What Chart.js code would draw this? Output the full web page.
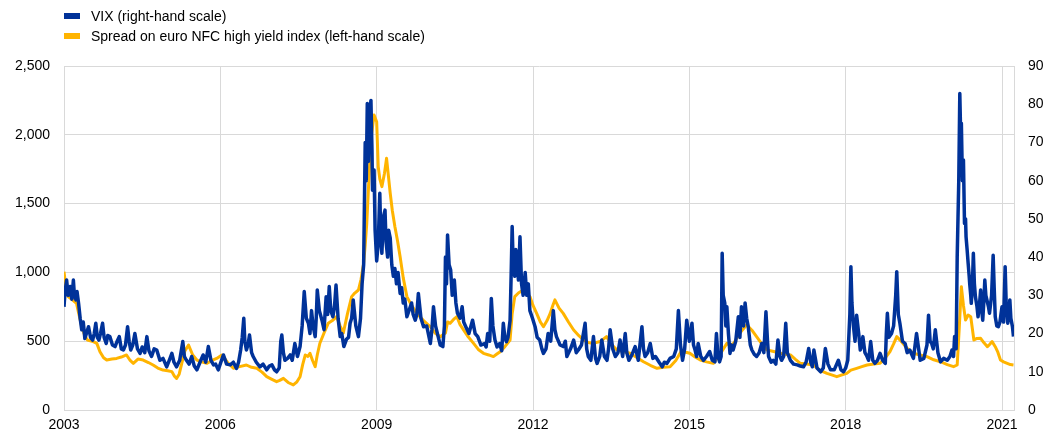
<!DOCTYPE html>
<html lang="en">
  <head>
    <meta charset="utf-8" />
    <title>VIX and euro NFC high yield spread</title>
    <style>
      * {
        margin: 0;
        padding: 0;
        font-family: "Liberation Sans", Arial, sans-serif;
      }
      body {
        width: 1057px;
        height: 441px;
        background: #fff;
        position: relative;
        overflow: hidden;
      }
      .legend {
        position: absolute;
        left: 64px;
        top: 6px;
        font-size: 14px;
        color: #000;
      }
      .legend div {
        height: 20px;
        line-height: 20px;
        display: flex;
        align-items: center;
      }
      .legend span.box {
        display: inline-block;
        width: 16px;
        height: 6px;
        margin-right: 11px;
      }
      .chartBox {
        position: absolute;
        left: 0;
        top: 0;
        width: 1057px;
        height: 441px;
      }
    </style>
  </head>
  <body>
    <div class="chartBox"><canvas id="myChart"></canvas></div>
    <div class="legend">
      <div><span class="box" style="background:#003299"></span>VIX (right-hand scale)</div>
      <div><span class="box" style="background:#ffb400"></span>Spread on euro NFC high yield index (left-hand scale)</div>
    </div>

    <script src="https://cdn.jsdelivr.net/npm/chart.js"></script>
    <script>
      // setup - values (dates as decimal years)
      const yearTicks = [2003, 2006, 2009, 2012, 2015, 2018, 2021];

      const vixDates = [
        2003.00, 2003.02, 2003.05, 2003.08, 2003.12, 2003.15, 2003.18, 2003.20, 2003.23, 2003.25,
        2003.28, 2003.31, 2003.34, 2003.37, 2003.40, 2003.43, 2003.47, 2003.51, 2003.55, 2003.58,
        2003.61, 2003.64, 2003.67, 2003.70, 2003.74, 2003.77, 2003.81, 2003.84, 2003.88, 2003.93,
        2003.98, 2004.02, 2004.06, 2004.10, 2004.14, 2004.18, 2004.22, 2004.25, 2004.28, 2004.32,
        2004.36, 2004.41, 2004.46, 2004.50, 2004.55, 2004.59, 2004.63, 2004.68, 2004.73, 2004.78,
        2004.84, 2004.90, 2004.97, 2005.02, 2005.07, 2005.11, 2005.16, 2005.22, 2005.28, 2005.31,
        2005.35, 2005.40, 2005.45, 2005.50, 2005.55, 2005.61, 2005.67, 2005.72, 2005.77, 2005.82,
        2005.87, 2005.91, 2005.96, 2006.01, 2006.06, 2006.12, 2006.19, 2006.25, 2006.31, 2006.35,
        2006.39, 2006.42, 2006.45, 2006.47, 2006.50, 2006.53, 2006.56, 2006.60, 2006.63, 2006.69,
        2006.76, 2006.82, 2006.89, 2006.94, 2006.99, 2007.04, 2007.08, 2007.13, 2007.16, 2007.18,
        2007.21, 2007.24, 2007.29, 2007.34, 2007.38, 2007.43, 2007.48, 2007.53, 2007.57, 2007.61,
        2007.65, 2007.69, 2007.72, 2007.75, 2007.78, 2007.82, 2007.84, 2007.86, 2007.90, 2007.95,
        2007.99, 2008.03, 2008.06, 2008.09, 2008.12, 2008.16, 2008.19, 2008.22, 2008.26, 2008.30,
        2008.33, 2008.37, 2008.42, 2008.46, 2008.49, 2008.52, 2008.55, 2008.60, 2008.65, 2008.69,
        2008.72, 2008.75, 2008.78, 2008.80, 2008.82, 2008.84, 2008.86, 2008.89, 2008.91, 2008.92,
        2008.95, 2008.97, 2009.00, 2009.03, 2009.06, 2009.08, 2009.10, 2009.13, 2009.16, 2009.18,
        2009.21, 2009.23, 2009.26, 2009.29, 2009.32, 2009.35, 2009.38, 2009.41, 2009.45, 2009.48,
        2009.51, 2009.54, 2009.58, 2009.62, 2009.67, 2009.70, 2009.74, 2009.77, 2009.80, 2009.85,
        2009.90, 2009.96, 2010.03, 2010.06, 2010.09, 2010.13, 2010.18, 2010.22, 2010.27, 2010.30,
        2010.32, 2010.34, 2010.36, 2010.39, 2010.42, 2010.45, 2010.49, 2010.52, 2010.55, 2010.60,
        2010.64, 2010.67, 2010.71, 2010.77, 2010.84, 2010.89, 2010.94, 2011.00, 2011.07, 2011.10,
        2011.13, 2011.17, 2011.20, 2011.23, 2011.27, 2011.31, 2011.36, 2011.40, 2011.43, 2011.46,
        2011.49, 2011.52, 2011.56, 2011.58, 2011.60, 2011.62, 2011.65, 2011.67, 2011.69, 2011.72,
        2011.75, 2011.78, 2011.81, 2011.85, 2011.88, 2011.91, 2011.94, 2011.99, 2012.04, 2012.08,
        2012.13, 2012.17, 2012.20, 2012.25, 2012.29, 2012.34, 2012.39, 2012.42, 2012.45, 2012.52,
        2012.58, 2012.62, 2012.65, 2012.72, 2012.78, 2012.83, 2012.87, 2012.93, 2013.00, 2013.03,
        2013.06, 2013.11, 2013.16, 2013.20, 2013.23, 2013.28, 2013.32, 2013.37, 2013.42, 2013.45,
        2013.48, 2013.53, 2013.58, 2013.63, 2013.67, 2013.72, 2013.77, 2013.80, 2013.84, 2013.90,
        2013.96, 2014.02, 2014.09, 2014.12, 2014.15, 2014.20, 2014.25, 2014.30, 2014.35, 2014.42,
        2014.48, 2014.52, 2014.57, 2014.63, 2014.70, 2014.75, 2014.79, 2014.83, 2014.87, 2014.91,
        2014.95, 2015.00, 2015.05, 2015.08, 2015.11, 2015.14, 2015.17, 2015.22, 2015.27, 2015.33,
        2015.39, 2015.44, 2015.49, 2015.52, 2015.55, 2015.58, 2015.61, 2015.63, 2015.65, 2015.68,
        2015.70, 2015.72, 2015.75, 2015.78, 2015.81, 2015.84, 2015.89, 2015.94, 2015.97, 2016.00,
        2016.04, 2016.07, 2016.10, 2016.13, 2016.17, 2016.20, 2016.25, 2016.29, 2016.34, 2016.39,
        2016.43, 2016.47, 2016.50, 2016.52, 2016.57, 2016.61, 2016.66, 2016.70, 2016.74, 2016.77,
        2016.81, 2016.85, 2016.88, 2016.94, 2017.00, 2017.07, 2017.13, 2017.19, 2017.24, 2017.29,
        2017.33, 2017.36, 2017.39, 2017.45, 2017.52, 2017.57, 2017.61, 2017.66, 2017.71, 2017.78,
        2017.86, 2017.91, 2017.96, 2018.00, 2018.04, 2018.08, 2018.10, 2018.12, 2018.15, 2018.18,
        2018.21, 2018.25, 2018.28, 2018.31, 2018.33, 2018.37, 2018.41, 2018.44, 2018.48, 2018.52,
        2018.56, 2018.61, 2018.66, 2018.71, 2018.76, 2018.78, 2018.80, 2018.83, 2018.88, 2018.92,
        2018.96, 2018.98, 2019.01, 2019.04, 2019.09, 2019.14, 2019.18, 2019.23, 2019.30, 2019.36,
        2019.40, 2019.43, 2019.50, 2019.56, 2019.59, 2019.62, 2019.65, 2019.68, 2019.72, 2019.77,
        2019.82, 2019.88, 2019.95, 2020.00, 2020.04, 2020.07, 2020.09, 2020.12, 2020.14, 2020.17,
        2020.19, 2020.21, 2020.22, 2020.24, 2020.26, 2020.28, 2020.30, 2020.31, 2020.33, 2020.35,
        2020.37, 2020.38, 2020.40, 2020.41, 2020.43, 2020.45, 2020.47, 2020.49, 2020.52, 2020.54,
        2020.57, 2020.59, 2020.61, 2020.63, 2020.65, 2020.67, 2020.69, 2020.71, 2020.74, 2020.76,
        2020.80, 2020.83, 2020.85, 2020.87, 2020.90, 2020.93, 2020.96, 2021.00, 2021.03, 2021.06,
        2021.08, 2021.11, 2021.13, 2021.15, 2021.17, 2021.20, 2021.22
      ];
      const vixValues = [
        27, 31, 34, 30, 32.3, 29, 34, 30, 28.8, 31,
        27.9, 24, 21, 23, 18.7, 20, 21.8, 19, 18.3, 20,
        22.7, 19, 18.3, 20, 22.7, 19, 17.4, 19.5, 19.2, 17,
        16.6, 18, 19.2, 16, 15.7, 17, 21.8, 18, 15.7, 17,
        20, 16, 14.8, 16.5, 15, 19.2, 15.5, 14, 16, 15.7,
        13, 13.5, 11.3, 13, 14.8, 12.5, 11.3, 13, 17.9, 14,
        13, 12, 14, 11.5, 10.5, 12.5, 14.4, 12.5, 16.6, 13,
        11.8, 12, 10.5, 12.5, 14.4, 12, 11.8, 12.5, 10.9, 12.5,
        15.7, 19, 24, 18, 15.7, 17, 19.6, 15, 14, 12.5,
        11.3, 12, 10.5, 11.5, 11.8, 10.5, 10, 11, 18, 19.6,
        15, 13, 13.5, 14.4, 13, 17.4, 14, 16.6, 22, 31,
        24, 22.7, 20, 26, 22, 19.2, 24, 31.4, 26, 23.5,
        21, 29.6, 25, 32.3, 26, 24.4, 27, 32.7, 24, 19.2,
        20, 16.6, 18.5, 19, 22.7, 24, 28.8, 22, 19.2, 24,
        33, 38, 70, 60, 80.2, 65, 76.7, 81, 68, 57.5,
        62.8, 47, 39, 43.6, 56.7, 45, 41, 50.6, 52.3, 44,
        40, 47, 45, 38, 35, 37, 33, 36, 30.5, 32,
        28, 29, 24.4, 26, 28, 25, 23.5, 25, 30.5, 24,
        21.8, 22, 17.4, 21, 27, 22, 19.2, 17, 16.6, 22,
        40, 33, 45.8, 38, 36.6, 30, 34, 28, 25.3, 24,
        27, 23, 21.8, 20, 23.5, 20, 19.2, 17, 17.4, 16.5,
        20, 18, 29.2, 22, 18.3, 16.5, 17.4, 15.5, 22.7, 19,
        17.9, 19, 23.5, 35, 48, 38, 35, 42, 40, 34,
        45.3, 33, 30, 36, 30, 33, 26, 24, 21.8, 19,
        18.3, 16, 14.8, 16, 20, 18, 26, 21, 19.2, 17,
        16.6, 18, 14, 16, 18.3, 15, 15.7, 17, 22.7, 16,
        14, 13, 19.2, 13.5, 12.2, 14, 18.3, 14, 13, 16,
        21, 16, 14, 15, 18.3, 14, 20, 15, 13, 14.5,
        16.6, 13, 21.8, 16, 14, 15, 17.4, 13.5, 14, 12.5,
        11.3, 12.5, 12.2, 13.5, 14, 16, 26, 17, 13, 16,
        23.5, 18, 22.7, 17, 15.7, 14, 17.4, 14, 13, 14,
        15.3, 13, 12.6, 20, 14, 12.6, 14, 41, 30, 28,
        22, 27, 20, 14.8, 17, 15.7, 18, 24.4, 19, 27,
        22, 28, 24, 21.8, 17, 15.7, 14.5, 14, 15, 17.4,
        15, 25.7, 18, 14, 12.5, 13, 12, 18.3, 14, 13,
        14, 22.7, 15, 13, 12, 11.8, 11.5, 11.3, 12.5, 16.1,
        12.5, 11.3, 15.7, 11, 10, 11, 16.1, 12, 10.5, 10.5,
        13, 10.5, 10, 11, 13, 25, 37.5, 28, 21.8, 18,
        24.8, 20, 15.7, 17, 19.2, 15, 14, 13, 17.9, 13,
        12.2, 13, 14.8, 13, 12.2, 20, 25.3, 19, 20, 22,
        30, 36.2, 25, 22.7, 18, 17.4, 15, 15.7, 13.5, 20,
        16, 13, 13.5, 17, 24.8, 18, 17.4, 16, 21, 15,
        12.6, 13.5, 13, 14, 15.7, 14, 19.2, 16, 40, 60,
        82.8, 70, 75, 60, 65.4, 48.8, 50, 45.3, 42, 38.4,
        35, 33, 30, 27.9, 32, 41, 33, 29.6, 27, 24.4,
        28, 31.4, 26, 23.5, 28, 34, 30, 28.8, 27, 25.3,
        30, 40.5, 32, 24.4, 22, 21.8, 23, 27, 23, 37.5,
        28, 22.7, 25, 28.8, 24, 21.8, 19.2
      ];

      const spreadDates = [
        2003.00, 2003.04, 2003.08, 2003.16, 2003.24, 2003.29, 2003.34, 2003.40, 2003.45, 2003.54,
        2003.63, 2003.69, 2003.76, 2003.82, 2003.92, 2004.01, 2004.10, 2004.20, 2004.27, 2004.33,
        2004.42, 2004.52, 2004.62, 2004.71, 2004.80, 2004.90, 2004.99, 2005.07, 2005.12, 2005.16,
        2005.21, 2005.26, 2005.32, 2005.39, 2005.47, 2005.55, 2005.64, 2005.74, 2005.84, 2005.93,
        2006.03, 2006.14, 2006.25, 2006.37, 2006.50, 2006.60, 2006.70, 2006.80, 2006.89, 2006.98,
        2007.08, 2007.14, 2007.21, 2007.30, 2007.40, 2007.47, 2007.53, 2007.58, 2007.63, 2007.68,
        2007.72, 2007.77, 2007.82, 2007.86, 2007.91, 2007.99, 2008.07, 2008.15, 2008.23, 2008.30,
        2008.36, 2008.44, 2008.52, 2008.58, 2008.65, 2008.70, 2008.75, 2008.78, 2008.81, 2008.86,
        2008.90, 2008.95, 2009.00, 2009.03, 2009.06, 2009.10, 2009.15, 2009.19, 2009.22, 2009.26,
        2009.30, 2009.35, 2009.40, 2009.45, 2009.51, 2009.58, 2009.67, 2009.77, 2009.90, 2010.03,
        2010.12, 2010.22, 2010.32, 2010.36, 2010.41, 2010.48, 2010.54, 2010.60, 2010.67, 2010.76,
        2010.86, 2010.95, 2011.05, 2011.15, 2011.24, 2011.30, 2011.37, 2011.46, 2011.56, 2011.60,
        2011.65, 2011.72, 2011.81, 2011.88, 2011.94, 2012.00, 2012.07, 2012.14, 2012.20, 2012.27,
        2012.33, 2012.38, 2012.42, 2012.50, 2012.58, 2012.68, 2012.78, 2012.88, 2012.97, 2013.06,
        2013.16, 2013.30, 2013.41, 2013.50, 2013.61, 2013.74, 2013.86, 2014.00, 2014.12, 2014.25,
        2014.38, 2014.50, 2014.63, 2014.74, 2014.85, 2014.93, 2015.01, 2015.11, 2015.21, 2015.33,
        2015.46, 2015.58, 2015.72, 2015.78, 2015.85, 2015.97, 2016.10, 2016.20, 2016.29, 2016.39,
        2016.49, 2016.62, 2016.74, 2016.84, 2016.94, 2017.03, 2017.13, 2017.25, 2017.38, 2017.50,
        2017.64, 2017.73, 2017.83, 2017.93, 2018.02, 2018.10, 2018.21, 2018.31, 2018.41, 2018.54,
        2018.66, 2018.76, 2018.85, 2018.92, 2018.98, 2019.04, 2019.10, 2019.20, 2019.30, 2019.43,
        2019.56, 2019.69, 2019.82, 2019.95, 2020.07, 2020.14, 2020.18, 2020.22, 2020.26, 2020.30,
        2020.35, 2020.40, 2020.46, 2020.52, 2020.59, 2020.65, 2020.72, 2020.77, 2020.81, 2020.87,
        2020.92, 2020.97, 2021.03, 2021.10, 2021.16, 2021.22
      ];
      const spreadValues = [
        1005, 880, 824, 800, 775, 690, 605, 540, 509, 500,
        484, 424, 380, 363, 370, 375, 385, 400, 360, 339,
        370, 363, 345, 327, 305, 290, 285, 279, 245, 230,
        260, 339, 430, 472, 400, 363, 350, 339, 360, 375,
        400, 345, 303, 315, 327, 310, 303, 275, 242, 225,
        206, 215, 230, 200, 182, 205, 242, 330, 400, 390,
        412, 360, 315, 400, 485, 560, 630, 650, 678, 610,
        560, 700, 824, 850, 872, 950, 1066, 1200, 1357, 1750,
        2000, 2144, 2095, 1768, 1680, 1623, 1720, 1829, 1720, 1575,
        1450, 1332, 1230, 1114, 960, 824, 760, 702, 650, 605,
        560, 533, 560, 640, 630, 660, 678, 620, 581, 530,
        484, 440, 412, 400, 388, 405, 424, 460, 509, 700,
        824, 850, 872, 850, 824, 760, 702, 640, 605, 650,
        702, 760, 800, 740, 702, 640, 581, 540, 509, 490,
        484, 500, 533, 480, 436, 425, 412, 380, 351, 325,
        303, 310, 315, 360, 430, 420, 412, 385, 363, 350,
        339, 400, 484, 470, 484, 560, 620, 580, 533, 480,
        436, 425, 412, 405, 400, 370, 339, 335, 327, 290,
        266, 255, 242, 255, 266, 290, 303, 315, 327, 335,
        339, 380, 424, 480, 533, 510, 484, 440, 412, 400,
        388, 365, 351, 330, 315, 327, 600, 896, 760, 654,
        690, 678, 509, 520, 521, 490, 460, 480, 497, 460,
        420, 363, 350, 339, 330, 327
      ];

      const toPoints = (dates, values) =>
        dates.map((d, i) => ({ x: d, y: values[i] }));

      const gridColor = "#d9d9d9";

      const data = {
        datasets: [
          {
            label: "VIX (right-hand scale)",
            data: toPoints(vixDates, vixValues),
            borderColor: "#003299",
            backgroundColor: "#003299",
            borderWidth: 3.5,
            pointRadius: 0,
            yAxisID: "y1",
            order: 1
          },
          {
            label: "Spread on euro NFC high yield index (left-hand scale)",
            data: toPoints(spreadDates, spreadValues),
            borderColor: "#ffb400",
            backgroundColor: "#ffb400",
            borderWidth: 3,
            pointRadius: 0,
            yAxisID: "y",
            order: 2
          }
        ]
      };

      // config
      const config = {
        type: "line",
        data,
        options: {
          responsive: false,
          animation: false,
          layout: { padding: { top: 66, right: 0, left: 0, bottom: 0 } },
          elements: { line: { borderJoinStyle: "round", tension: 0 } },
          plugins: {
            legend: { display: false },
            tooltip: { enabled: false }
          },
          scales: {
            x: {
              type: "linear",
              min: 2003,
              max: 2021.23,
              afterBuildTicks: (scale) => {
                scale.ticks = yearTicks.map((v) => ({ value: v }));
              },
              afterFit: (scale) => {
                scale.height = 31;
              },
              grid: { color: gridColor, drawTicks: false },
              border: { color: gridColor },
              ticks: {
                padding: 7,
                color: "#000",
                font: { size: 14 },
                maxRotation: 0,
                callback: (v) => String(v)
              }
            },
            y: {
              position: "left",
              min: 0,
              max: 2500,
              afterFit: (scale) => {
                scale.width = 64;
              },
              grid: { color: gridColor, drawTicks: false },
              border: { color: gridColor },
              ticks: {
                stepSize: 500,
                padding: 14,
                color: "#000",
                font: { size: 14 },
                callback: (v) => v.toLocaleString("en-US")
              }
            },
            y1: {
              position: "right",
              min: 0,
              max: 90,
              afterFit: (scale) => {
                scale.width = 43;
              },
              grid: { display: false, drawTicks: false },
              border: { display: true, color: gridColor },
              ticks: {
                stepSize: 10,
                padding: 14,
                color: "#000",
                font: { size: 14 }
              }
            }
          }
        }
      };

      const canvas = document.getElementById("myChart");
      canvas.width = 1057;
      canvas.height = 441;
      const myChart = new Chart(canvas, config);
    </script>
  </body>
</html>
